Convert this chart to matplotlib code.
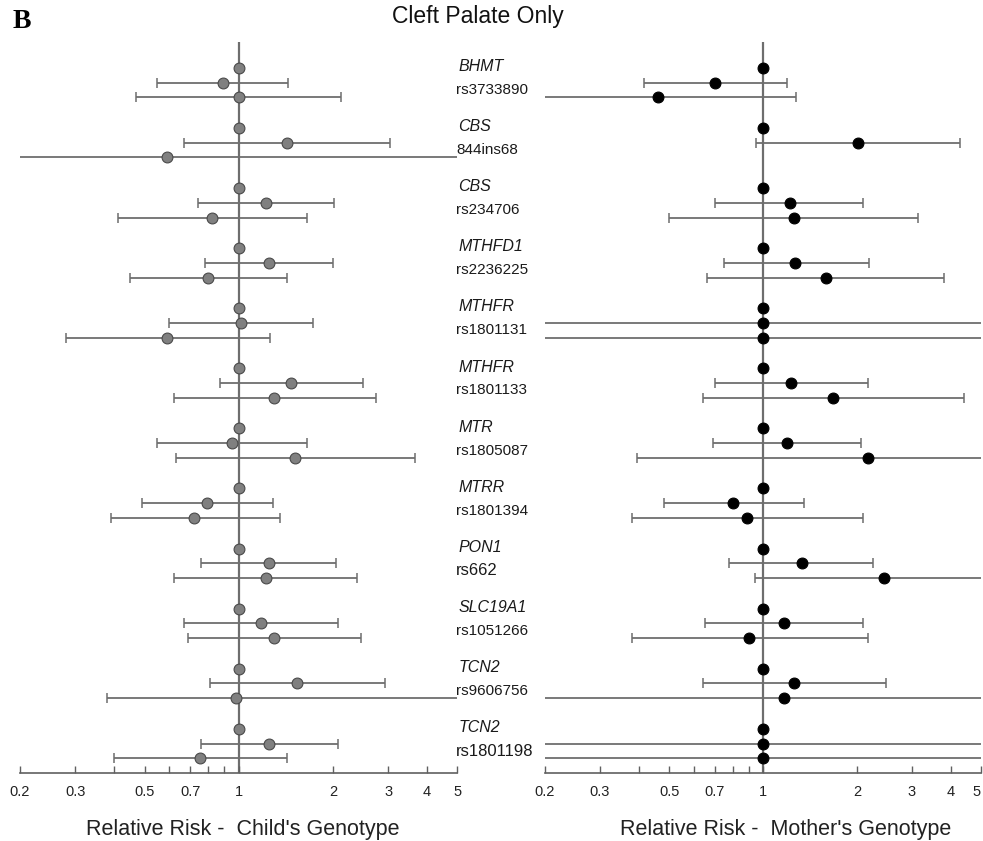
import numpy as np
import matplotlib
matplotlib.use("Agg")
import matplotlib.pyplot as plt
from matplotlib.ticker import NullLocator
from matplotlib import transforms

plt.rcParams['font.family'] = ['Liberation Sans', 'DejaVu Sans']

# ==========================================
# data
# ==========================================
genes = ['BHMT', 'CBS', 'CBS', 'MTHFD1', 'MTHFR', 'MTHFR',
         'MTR', 'MTRR', 'PON1', 'SLC19A1', 'TCN2', 'TCN2']
snps = ['rs3733890', '844ins68', 'rs234706', 'rs2236225', 'rs1801131', 'rs1801133',
        'rs1805087', 'rs1801394', 'rs662', 'rs1051266', 'rs9606756', 'rs1801198']

# child's genotype: heterozygote / homozygote, RR with CI
# (limits outside 0.2-5 run off the axis, no cap)
child_het_rr = [0.89, 1.43, 1.22, 1.25, 1.02, 1.47, 0.95, 0.79, 1.25, 1.18, 1.54, 1.25]
child_het_lo = [0.55, 0.67, 0.74, 0.78, 0.60, 0.87, 0.55, 0.49, 0.76, 0.67, 0.81, 0.76]
child_het_hi = [1.44, 3.05, 2.02, 2.00, 1.73, 2.50, 1.65, 1.29, 2.05, 2.07, 2.94, 2.07]
child_hom_rr = [1.00, 0.59, 0.82, 0.80, 0.59, 1.30, 1.51, 0.72, 1.22, 1.30, 0.98, 0.75]
child_hom_lo = [0.47, 0.10, 0.41, 0.45, 0.28, 0.62, 0.63, 0.39, 0.62, 0.69, 0.38, 0.40]
child_hom_hi = [2.13, 10.0, 1.65, 1.43, 1.26, 2.75, 3.65, 1.35, 2.38, 2.46, 10.0, 1.43]

# mother's genotype
nan = np.nan
mom_het_rr = [0.70, 2.02, 1.22, 1.27, 1.00, 1.23, 1.19, 0.80, 1.33, 1.17, 1.26, 1.00]
mom_het_lo = [0.415, 0.95, 0.70, 0.75, 0.10, 0.70, 0.69, 0.48, 0.78, 0.65, 0.64, 0.10]
mom_het_hi = [1.19, 4.28, 2.10, 2.18, 10.0, 2.17, 2.06, 1.35, 2.26, 2.10, 2.48, 10.0]
mom_hom_rr = [0.46, nan, 1.26, 1.59, 1.00, 1.68, 2.17, 0.89, 2.44, 0.90, 1.17, 1.00]
mom_hom_lo = [0.10, nan, 0.50, 0.66, 0.10, 0.64, 0.395, 0.38, 0.94, 0.38, 0.10, 0.10]
mom_hom_hi = [1.28, nan, 3.15, 3.82, 10.0, 4.40, 10.0, 2.10, 10.0, 2.17, 10.0, 10.0]

tick_vals = [0.2, 0.3, 0.4, 0.5, 0.6, 0.7, 0.8, 0.9, 1, 2, 3, 4, 5]
tick_labels = ['0.2', '0.3', '', '0.5', '', '0.7', '', '', '1', '2', '3', '4', '5']

# these two snp labels are set a bit larger in the original
big_snps = {'rs662', 'rs1801198'}

ROW_STEP = 0.246   # spacing of the 3 genotype rows inside one gene block
LINE_COL = '#6e6e6e'


def draw_panel(ax, het, hom, face, edge, xlabel, label_x):
    n = len(genes)
    y0 = np.arange(n)
    ax.axvline(1, color=LINE_COL, lw=1.6, zorder=1)

    # referent genotype (RR = 1, no interval)
    ax.plot(np.ones(n), y0, 'o', ms=7.8, mfc=face, mec=edge, mew=0.8, zorder=3)

    for k, (rr, lo, hi) in enumerate([het, hom], start=1):
        rr, lo, hi = np.array(rr), np.array(lo), np.array(hi)
        ok = ~np.isnan(rr)
        y = y0[ok] + k * ROW_STEP
        xerr = [rr[ok] - lo[ok], hi[ok] - rr[ok]]
        ax.errorbar(rr[ok], y, xerr=xerr, fmt='none', ecolor=LINE_COL,
                    elinewidth=1.3, capsize=3.6, capthick=1.1, zorder=2)
        ax.plot(rr[ok], y, 'o', ms=7.8, mfc=face, mec=edge, mew=0.8, zorder=3)

    ax.set_xscale('log')
    ax.set_xlim(0.2, 5)
    ax.set_ylim(11.735, -0.43)
    ax.set_xticks(tick_vals)
    ax.set_xticklabels(tick_labels)
    ax.xaxis.set_minor_locator(NullLocator())
    ax.tick_params(axis='x', direction='in', length=5, width=1, color='#606060',
                   labelsize=10.5, labelcolor='#222222', pad=9)
    ax.set_yticks([])
    for s in ['left', 'right', 'top']:
        ax.spines[s].set_visible(False)
    ax.spines['bottom'].set_color('#606060')
    ax.spines['bottom'].set_linewidth(1.2)
    ax.patch.set_alpha(0)

    ax.text(label_x, -0.0848, xlabel, transform=ax.transAxes, ha='center',
            va='baseline', fontsize=15.5, color='#222222')


fig = plt.figure(figsize=(9.83, 8.41), dpi=100)
ax1 = fig.add_axes([0.0203, 0.0809, 0.4451, 0.8692])
ax2 = fig.add_axes([0.5544, 0.0809, 0.4435, 0.8692])

draw_panel(ax1, (child_het_rr, child_het_lo, child_het_hi),
           (child_hom_rr, child_hom_lo, child_hom_hi),
           '#808080', '#4a4a4a', "Relative Risk -  Child's Genotype", 0.5086)
draw_panel(ax2, (mom_het_rr, mom_het_lo, mom_het_hi),
           (mom_hom_rr, mom_hom_lo, mom_hom_hi),
           'black', 'black', "Relative Risk -  Mother's Genotype", 0.553)

# the last "5" sits on the right edge of the page
ax2.get_xticklabels()[-1].set_horizontalalignment('right')

# gene / SNP labels in the middle column
trans = transforms.blended_transform_factory(fig.transFigure, ax1.transData)
for i, (g, s) in enumerate(zip(genes, snps)):
    fig.text(0.466, i - 0.02, g, transform=trans, ha='left', va='center',
             fontsize=11.5, style='italic', color='#1a1a1a')
    fig.text(0.464, i + 0.37, s, transform=trans, ha='left', va='center',
             fontsize=12 if s in big_snps else 11, color='#1a1a1a')

fig.text(0.486, 0.9723, 'Cleft Palate Only', ha='center', va='baseline',
         fontsize=16.5, color='#111111')
fig.text(0.013, 0.9663, 'B', ha='left', va='baseline', fontsize=20,
         fontweight='bold', family=['Liberation Serif', 'DejaVu Serif'])

plt.savefig('out.png', dpi=100)
